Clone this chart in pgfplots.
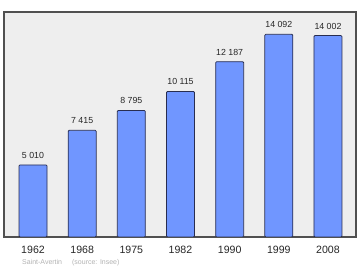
\documentclass[border=0pt]{standalone}
\usepackage{pgfplots}
\pgfplotsset{compat=1.18}
\usepackage{fontspec}
\setmainfont{Liberation Sans}
\definecolor{barblue}{RGB}{112,150,255}
\definecolor{baredge}{RGB}{40,45,80}
\definecolor{bggray}{RGB}{238,238,238}
\definecolor{frame}{RGB}{80,80,80}
\begin{document}
\begin{tikzpicture}[x=1pt,y=1pt]
\path (0,0) rectangle (360,270);
\begin{axis}[
  at={(4pt,33pt)}, anchor=south west,
  scale only axis, width=352pt, height=225pt,
  xmin=-0.59, xmax=6.57, ymin=0, ymax=15640,
  axis background/.style={fill=bggray},
  axis line style={frame, line width=1.2pt},
  ytick=\empty,
  xtick={0,1,2,3,4,5,6},
  xticklabels={1962,1968,1975,1982,1990,1999,2008},
  major tick length=0pt,
  xticklabel style={font=\fontsize{10.6}{12}\selectfont, color=black!85, inner sep=0pt, yshift=-8.5pt},
  point meta=explicit symbolic,
  nodes near coords,
  every node near coord/.style={font=\fontsize{8.8}{10}\selectfont, color=black!85, inner sep=0pt, anchor=south, yshift=6pt},
]
\addplot[ybar, bar width=28pt, fill=barblue, draw=baredge, line width=0.8pt, rounded corners=1pt]
coordinates {
(0,5010) [5 010]
(1,7415) [7 415]
(2,8795) [8 795]
(3,10115) [10 115]
(4,12187) [12 187]
(5,14092) [14 092]
(6,14002) [14 002]
};
\end{axis}
\node[anchor=west, inner sep=0pt, font=\fontsize{7}{8}\selectfont, color=black!30] at (22,7.5) {Saint-Avertin\hspace{10pt}(source: Insee)};
\end{tikzpicture}
\end{document}
